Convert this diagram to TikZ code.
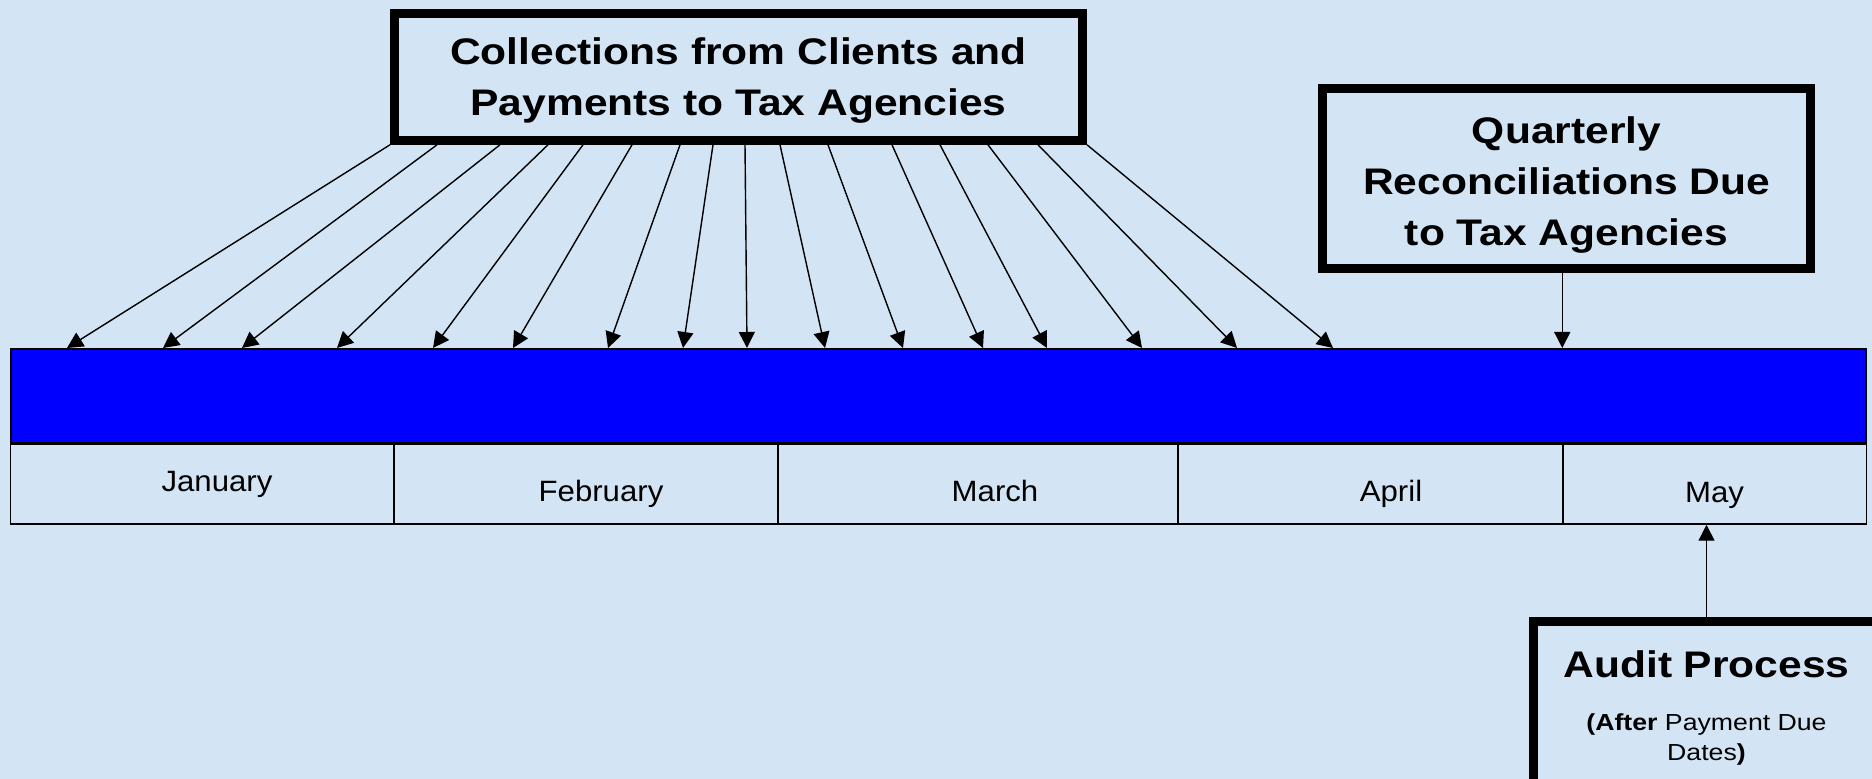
\documentclass[tikz,border=0pt]{standalone}
\usepackage{fontspec}
\setmainfont{Liberation Sans}[FakeStretch=1.06]
\newfontfamily\headfont{Liberation Sans}[FakeStretch=1.15]
\usepackage{tikz}
\usetikzlibrary{arrows.meta}
\definecolor{paper}{RGB}{211,228,245}
\tikzset{every picture/.style={line width=0.75pt}}
\tikzset{
  headbox/.style={draw, line width=4.3pt, align=center, inner sep=0pt, font=\headfont\bfseries\fontsize{18.5}{25.5}\selectfont},
  cell/.style={draw, line width=0.75pt, minimum height=40pt, inner sep=0pt},
  monthlbl/.style={anchor=base, inner sep=0pt, font=\fontsize{14.7}{17}\selectfont},
  arr/.style={line width=0.7pt, -{Triangle[length=8pt,width=8pt]}},
}

\begin{document}
\begin{tikzpicture}[x=0.5pt,y=0.5pt,yscale=-1,xscale=1]
\useasboundingbox (0,0) rectangle (1872,779);
\clip (0,0) rectangle (1872,779);
%Shape: Rectangle [background]
\fill[paper] (0,0) rectangle (1872,779);

%Shape: Rectangle [time bar]
\node[draw, fill=blue, line width=0.9pt, minimum width=927.6pt, minimum height=47.1pt, inner sep=0pt] (bar) at (938.5,396) {};

%Shape: Rectangle [month cells]
\node[cell, minimum width=191.75pt] (jan) at (202.25,484) {};
\node[cell, minimum width=192pt] (feb) at (586,484) {};
\node[cell, minimum width=200pt] (mar) at (978,484) {};
\node[cell, minimum width=192.5pt] (apr) at (1370.5,484) {};
\node[cell, minimum width=151.75pt] (may) at (1714.75,484) {};

% Text Node
\node[monthlbl] (janlbl) at (217,492) {January};
% Text Node
\node[monthlbl] (feblbl) at (601,502) {February};
% Text Node
\node[monthlbl] (marlbl) at (995,502) {March};
% Text Node
\node[monthlbl] (aprlbl) at (1391,502) {April};
% Text Node
\node[monthlbl] (maylbl) at (1714.5,503) {May};

%Shape: Rectangle [collections]
\node[headbox, minimum width=344pt, minimum height=63.5pt] (coll) at (738.5,77) {\rule{0pt}{17pt}Collections from Clients and\\Payments to Tax Agencies};
%Shape: Rectangle [quarterly]
\node[headbox, minimum width=244pt, minimum height=90pt] (qrec) at (1566.5,178.5) {\rule{0pt}{20pt}Quarterly\\Reconciliations Due\\to Tax Agencies};
%Shape: Rectangle [audit]
\node[headbox, font=\headfont\fontsize{11.6}{15}\selectfont, minimum width=173pt, minimum height=86.5pt] (audit) at (1706.5,708) {{\bfseries\fontsize{18.5}{22}\selectfont Audit Process}\\[11.5pt]\textbf{(After} Payment Due\\Dates\textbf{)}};

%Straight Lines [collections to bar]
\draw[arr] (coll.south -| 390,0) -- (bar.north -| 67,0);
\draw[arr] (coll.south -| 437,0) -- (bar.north -| 163,0);
\draw[arr] (coll.south -| 500,0) -- (bar.north -| 242,0);
\draw[arr] (coll.south -| 548,0) -- (bar.north -| 337,0);
\draw[arr] (coll.south -| 583,0) -- (bar.north -| 433,0);
\draw[arr] (coll.south -| 632,0) -- (bar.north -| 513,0);
\draw[arr] (coll.south -| 680,0) -- (bar.north -| 608,0);
\draw[arr] (coll.south -| 713,0) -- (bar.north -| 683,0);
\draw[arr] (coll.south -| 745,0) -- (bar.north -| 747,0);
\draw[arr] (coll.south -| 780,0) -- (bar.north -| 825,0);
\draw[arr] (coll.south -| 828,0) -- (bar.north -| 903,0);
\draw[arr] (coll.south -| 892,0) -- (bar.north -| 983,0);
\draw[arr] (coll.south -| 940,0) -- (bar.north -| 1047,0);
\draw[arr] (coll.south -| 988,0) -- (bar.north -| 1142,0);
\draw[arr] (coll.south -| 1038,0) -- (bar.north -| 1237,0);
\draw[arr] (coll.south -| 1087,0) -- (bar.north -| 1333,0);
%Straight Lines [quarterly to bar]
\draw[arr] (qrec.south -| may.west) -- (bar.north -| may.west);
%Straight Lines [audit to May]
\draw[arr] (audit.north) -- (may.south -| audit.north);

\end{tikzpicture}
\end{document}
